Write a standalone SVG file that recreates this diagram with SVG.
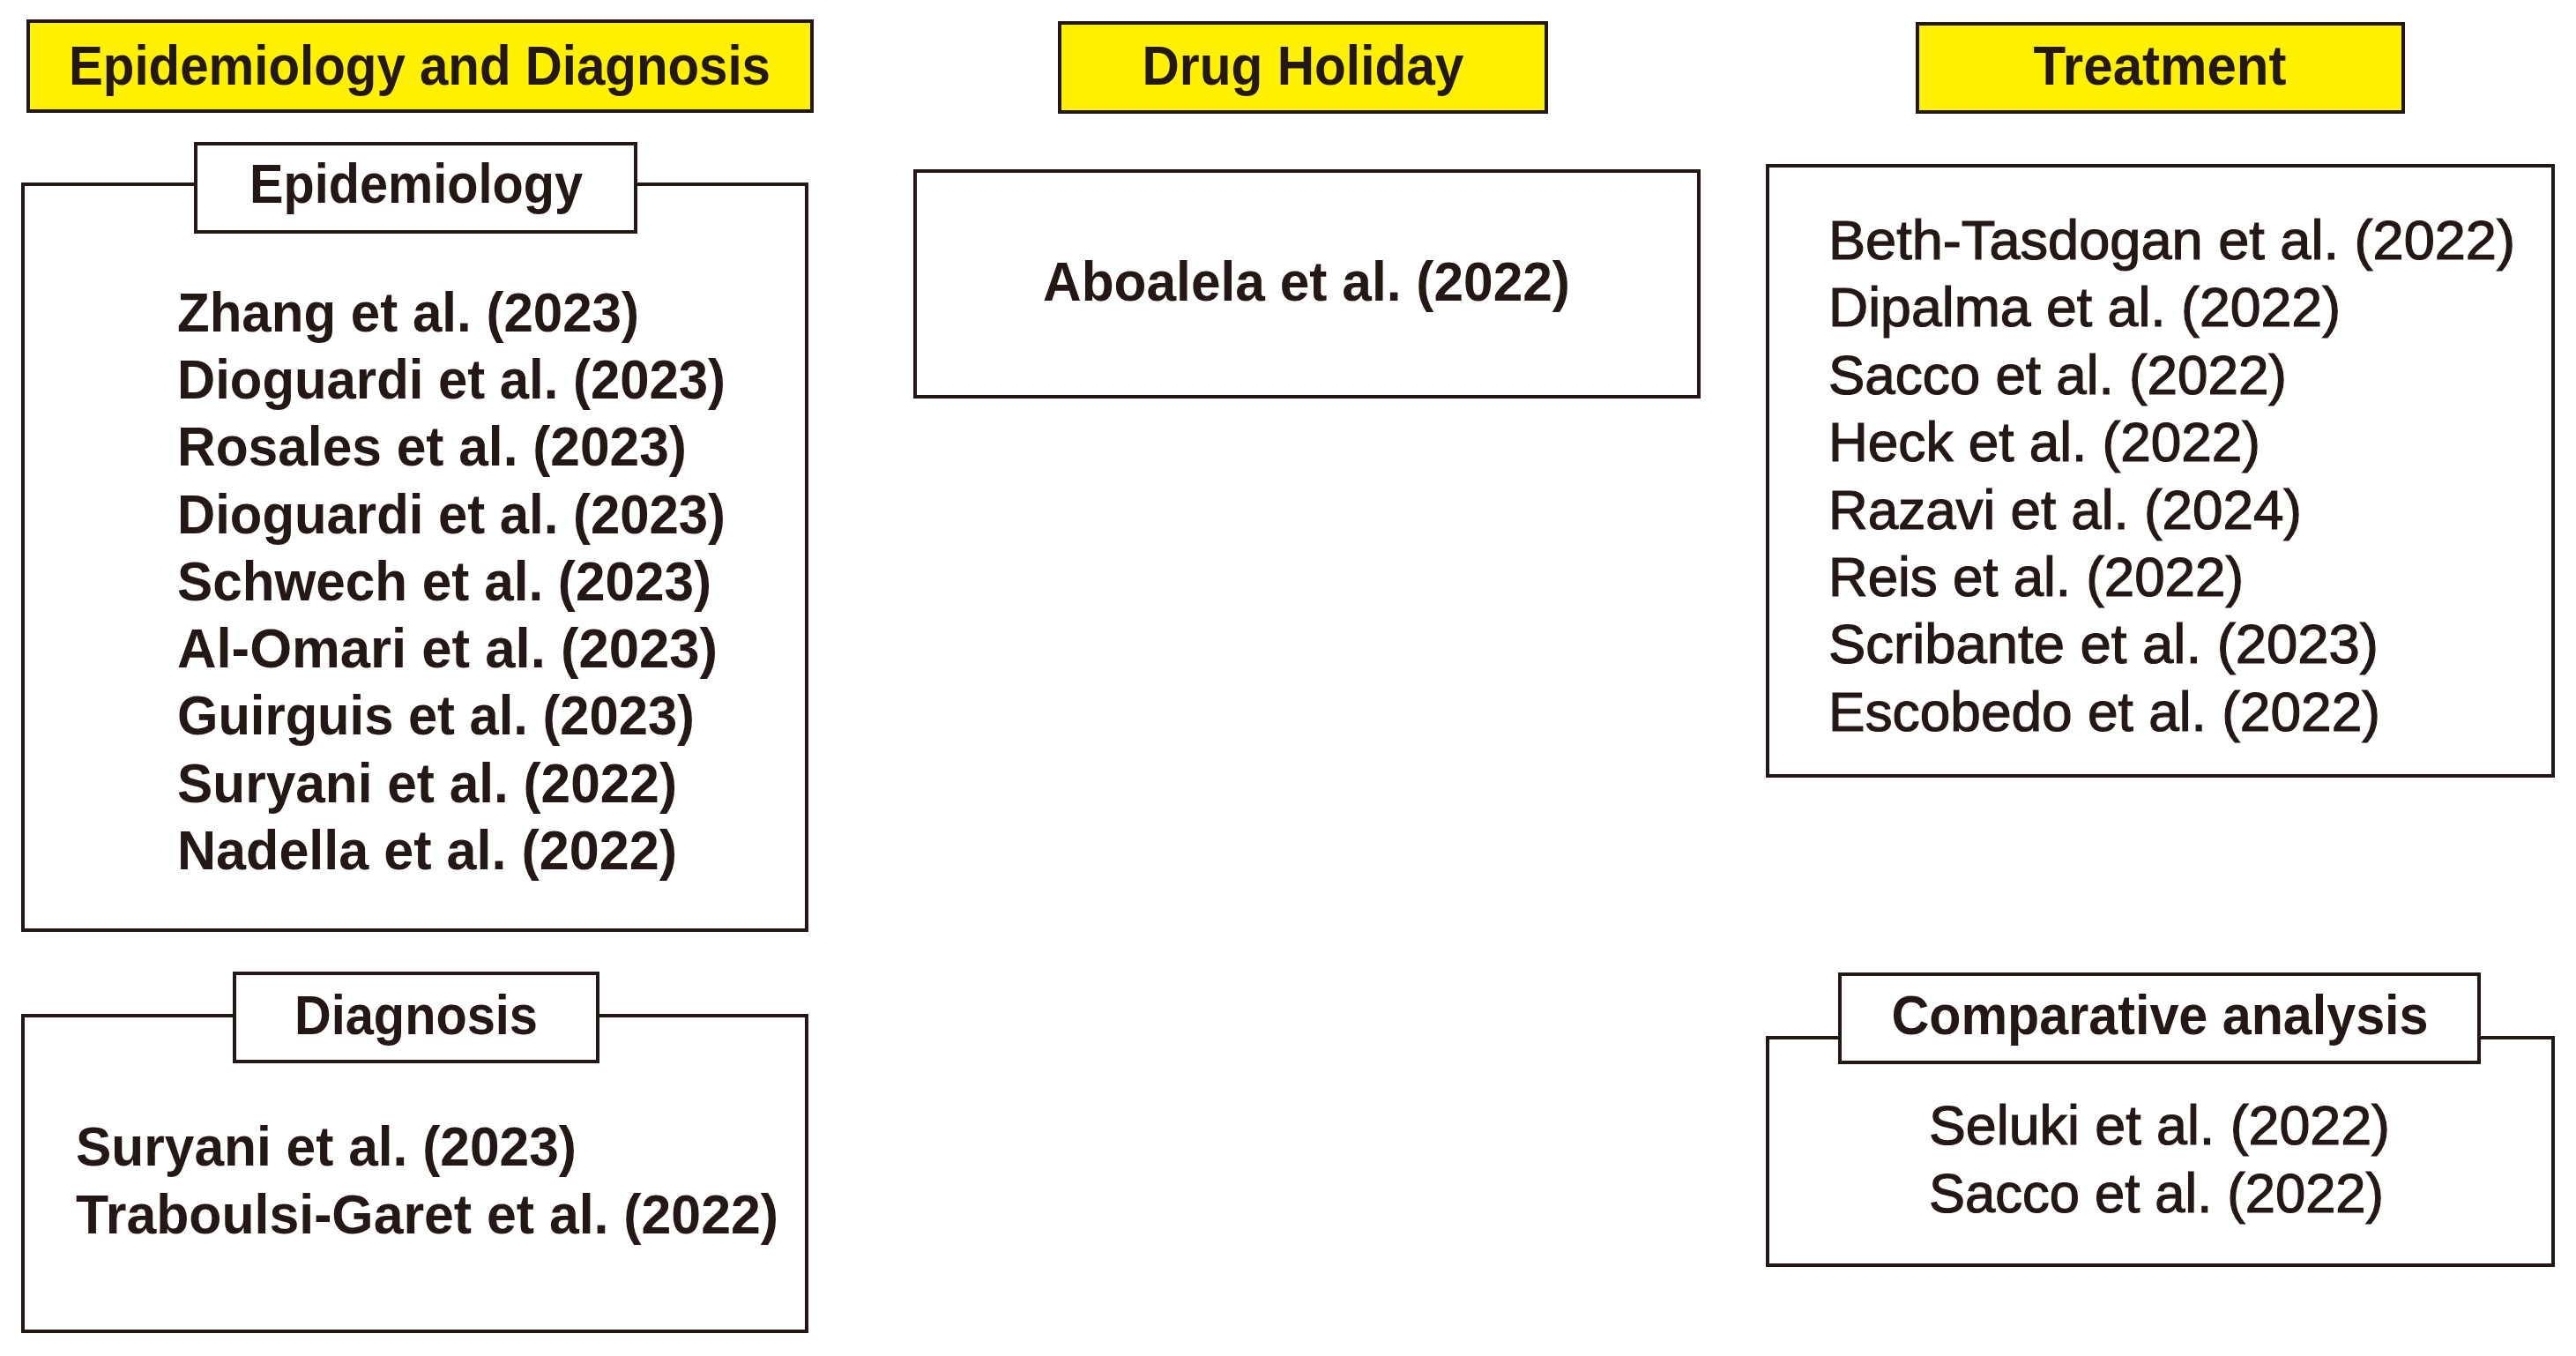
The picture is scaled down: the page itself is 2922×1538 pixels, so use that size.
<svg xmlns="http://www.w3.org/2000/svg" width="2922" height="1538" viewBox="0 0 2922 1538">
<style>
.box{fill:#fff;stroke:#231815;stroke-width:4}
.ybox{fill:#FFF100;stroke:#231815;stroke-width:4}
text{font-family:"Liberation Sans",Arial,sans-serif;fill:#231815;font-size:63px}
.h{font-weight:bold;text-anchor:middle}
.b{font-weight:bold}
.r{font-weight:normal;stroke:#231815;stroke-width:1.2}
</style>
<rect width="2922" height="1538" fill="#fff"/>
<g id="connectors"/>
<g id="title-epi-diag">
<rect class="ybox" x="32" y="24" width="889" height="102"/>
<text class="h" x="476" y="96" textLength="796" lengthAdjust="spacingAndGlyphs">Epidemiology and Diagnosis</text>
</g>
<g id="title-drug-holiday">
<rect class="ybox" x="1202" y="26" width="552" height="101"/>
<text class="h" x="1478" y="96" textLength="365" lengthAdjust="spacingAndGlyphs">Drug Holiday</text>
</g>
<g id="title-treatment">
<rect class="ybox" x="2175" y="27" width="551" height="100"/>
<text class="h" x="2450" y="96" textLength="287" lengthAdjust="spacingAndGlyphs">Treatment</text>
</g>
<g id="epidemiology">
<rect class="box" x="26" y="209" width="889" height="846"/>
<rect class="box" x="222" y="163" width="499" height="100"/>
<text class="h" x="472" y="230" textLength="378" lengthAdjust="spacingAndGlyphs">Epidemiology</text>
<text class="b" x="201" y="376" textLength="524" lengthAdjust="spacingAndGlyphs">Zhang et al. (2023)</text>
<text class="b" x="201" y="452" textLength="622" lengthAdjust="spacingAndGlyphs">Dioguardi et al. (2023)</text>
<text class="b" x="201" y="528" textLength="578" lengthAdjust="spacingAndGlyphs">Rosales et al. (2023)</text>
<text class="b" x="201" y="605" textLength="622" lengthAdjust="spacingAndGlyphs">Dioguardi et al. (2023)</text>
<text class="b" x="201" y="681" textLength="606" lengthAdjust="spacingAndGlyphs">Schwech et al. (2023)</text>
<text class="b" x="201" y="757" textLength="613" lengthAdjust="spacingAndGlyphs">Al-Omari et al. (2023)</text>
<text class="b" x="201" y="833" textLength="587" lengthAdjust="spacingAndGlyphs">Guirguis et al. (2023)</text>
<text class="b" x="201" y="910" textLength="567" lengthAdjust="spacingAndGlyphs">Suryani et al. (2022)</text>
<text class="b" x="201" y="986" textLength="567" lengthAdjust="spacingAndGlyphs">Nadella et al. (2022)</text>
</g>
<g id="diagnosis">
<rect class="box" x="26" y="1152" width="889" height="358"/>
<rect class="box" x="266" y="1104" width="412" height="100"/>
<text class="h" x="472" y="1173" textLength="276" lengthAdjust="spacingAndGlyphs">Diagnosis</text>
<text class="b" x="86" y="1322" textLength="568" lengthAdjust="spacingAndGlyphs">Suryani et al. (2023)</text>
<text class="b" x="86" y="1399" textLength="797" lengthAdjust="spacingAndGlyphs">Traboulsi-Garet et al. (2022)</text>
</g>
<g id="drug-holiday">
<rect class="box" x="1038" y="194" width="889" height="256"/>
<text class="h" x="1482" y="341" textLength="598" lengthAdjust="spacingAndGlyphs">Aboalela et al. (2022)</text>
</g>
<g id="treatment">
<rect class="box" x="2005" y="188" width="891" height="692"/>
<text class="r" x="2074" y="294" textLength="779" lengthAdjust="spacingAndGlyphs">Beth-Tasdogan et al. (2022)</text>
<text class="r" x="2074" y="370" textLength="581" lengthAdjust="spacingAndGlyphs">Dipalma et al. (2022)</text>
<text class="r" x="2074" y="447" textLength="520" lengthAdjust="spacingAndGlyphs">Sacco et al. (2022)</text>
<text class="r" x="2074" y="523" textLength="490" lengthAdjust="spacingAndGlyphs">Heck et al. (2022)</text>
<text class="r" x="2074" y="600" textLength="537" lengthAdjust="spacingAndGlyphs">Razavi et al. (2024)</text>
<text class="r" x="2074" y="676" textLength="471" lengthAdjust="spacingAndGlyphs">Reis et al. (2022)</text>
<text class="r" x="2074" y="752" textLength="624" lengthAdjust="spacingAndGlyphs">Scribante et al. (2023)</text>
<text class="r" x="2074" y="829" textLength="626" lengthAdjust="spacingAndGlyphs">Escobedo et al. (2022)</text>
</g>
<g id="comparative-analysis">
<rect class="box" x="2005" y="1177" width="891" height="258"/>
<rect class="box" x="2087" y="1105" width="725" height="100"/>
<text class="h" x="2450" y="1173" textLength="609" lengthAdjust="spacingAndGlyphs">Comparative analysis</text>
<text class="r" x="2188" y="1298" textLength="523" lengthAdjust="spacingAndGlyphs">Seluki et al. (2022)</text>
<text class="r" x="2188" y="1375" textLength="516" lengthAdjust="spacingAndGlyphs">Sacco et al. (2022)</text>
</g>
</svg>
